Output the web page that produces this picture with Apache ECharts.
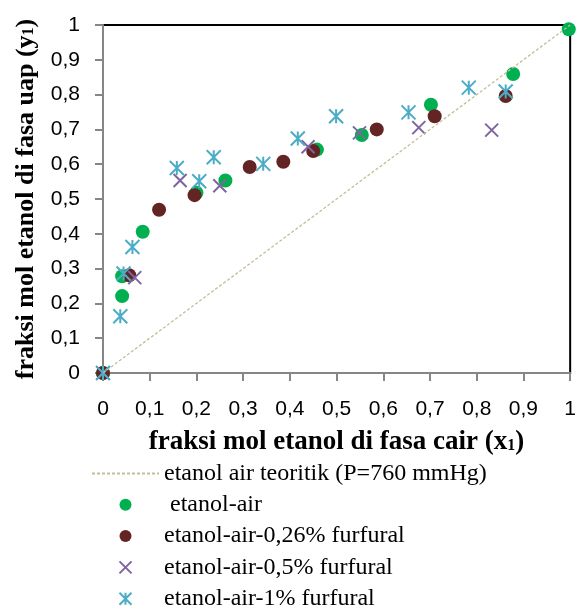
<!DOCTYPE html>
<html>
<head>
<meta charset="utf-8">
<script src="https://cdn.jsdelivr.net/npm/echarts@6/dist/echarts.min.js"></script>
<style>
  html, body { margin: 0; padding: 0; background: #fff; }
  #chart { width: 579px; height: 606px; }
</style>
</head>
<body>
<div id="chart"></div>
<script>
// teoritik line (diagonal y = x)
const teoritik = [[0, 0], [1, 1]];

// etanol-air
const airX = [0, 0.041, 0.041, 0.085, 0.200, 0.262, 0.458, 0.554, 0.702, 0.878, 0.997];
const airY = [0, 0.221, 0.278, 0.406, 0.518, 0.553, 0.642, 0.684, 0.771, 0.859, 0.988];

// etanol-air-0,26% furfural
const f026X = [0, 0.056, 0.120, 0.196, 0.314, 0.386, 0.450, 0.586, 0.710, 0.862];
const f026Y = [0, 0.281, 0.469, 0.511, 0.592, 0.607, 0.638, 0.700, 0.738, 0.796];

// etanol-air-0,5% furfural
const f05X = [0, 0.068, 0.165, 0.250, 0.439, 0.549, 0.676, 0.832];
const f05Y = [0, 0.274, 0.553, 0.538, 0.650, 0.690, 0.705, 0.698];

// etanol-air-1% furfural
const f1X = [0, 0.037, 0.044, 0.063, 0.158, 0.206, 0.237, 0.343, 0.417, 0.499, 0.654, 0.783, 0.862];
const f1Y = [0, 0.163, 0.286, 0.362, 0.589, 0.551, 0.620, 0.601, 0.674, 0.738, 0.749, 0.820, 0.809];

const legendNames = ['etanol air teoritik (P=760 mmHg)', ' etanol-air', 'etanol-air-0,26% furfural',
                     'etanol-air-0,5% furfural', 'etanol-air-1% furfural'];

const pairs = (xs, ys) => xs.map((x, i) => [x, ys[i]]);

const crossPath = 'path://M0,0 L20,20 M20,0 L0,20';
const starPath = 'path://M0,0 L20,20 M20,0 L0,20 M10,0 L10,20';

const serif = 'Liberation Serif';
const sans = 'Liberation Sans';
const comma = v => String(Math.round(v * 10) / 10).replace('.', ',');

// axis titles with a small "1" after x / y
const titleStyle = size => ({
    fontFamily: serif, fontWeight: 'bold', fontSize: size, color: '#000',
    rich: {
        t: { fontFamily: serif, fontWeight: 'bold', fontSize: size, color: '#000' },
        s: { fontFamily: serif, fontWeight: 'bold', fontSize: Math.round(size * 0.6), color: '#000', padding: [6, 0, 0, 0] }
    }
});

const chart = echarts.init(document.getElementById('chart'));
chart.setOption({
    animation: false,
    grid: {
        left: 103, right: 4, top: 25, bottom: 233,
        show: true, borderColor: '#000', borderWidth: 2
    },
    legend: {
        orient: 'vertical',
        left: 91,
        top: 460,
        height: 240,
        padding: 0,
        itemWidth: 67,
        itemHeight: 12,
        itemGap: 4.3,
        textStyle: { fontFamily: serif, fontSize: 24, color: '#000', lineHeight: 27 },
        data: [
            { name: legendNames[0], itemStyle: { opacity: 0 } },
            legendNames[1], legendNames[2], legendNames[3], legendNames[4]
        ]
    },
    xAxis: {
        type: 'value', min: 0, max: 1, interval: 0.1,
        name: '{t|fraksi mol etanol di fasa cair (x}{s|1}{t|)}',
        nameLocation: 'middle', nameGap: 56,
        nameTextStyle: titleStyle(27),
        axisLine: { lineStyle: { color: '#868686', width: 2 } },
        axisTick: { length: 8, lineStyle: { color: '#868686', width: 2 } },
        axisLabel: { formatter: comma, fontFamily: sans, fontSize: 21, color: '#000', margin: 26 },
        splitLine: { show: false }
    },
    yAxis: {
        type: 'value', min: 0, max: 1, interval: 0.1,
        name: '{t|fraksi mol etanol di fasa uap (y}{s|1}{t|)}',
        nameLocation: 'middle', nameGap: 64,
        nameTextStyle: titleStyle(26),
        axisLine: { show: true, lineStyle: { color: '#868686', width: 2 } },
        axisTick: { show: true, length: 8, lineStyle: { color: '#868686', width: 2 } },
        axisLabel: { formatter: comma, fontFamily: sans, fontSize: 21, color: '#000', margin: 23 },
        splitLine: { show: false }
    },
    series: [
        {
            name: legendNames[0],
            type: 'line',
            data: teoritik,
            symbol: 'none',
            lineStyle: { color: '#c4bd97', width: 1.3, type: [3, 2] },
            itemStyle: { color: '#c4bd97' }
        },
        {
            name: legendNames[1],
            type: 'scatter',
            data: pairs(airX, airY),
            symbol: 'circle',
            symbolSize: 14,
            itemStyle: { color: '#00b050', opacity: 1 }
        },
        {
            name: legendNames[2],
            type: 'scatter',
            data: pairs(f026X, f026Y),
            symbol: 'circle',
            symbolSize: 14,
            itemStyle: { color: '#632523', opacity: 1 }
        },
        {
            name: legendNames[3],
            type: 'scatter',
            data: pairs(f05X, f05Y),
            symbol: crossPath,
            symbolSize: 13,
            itemStyle: { color: 'none', borderColor: '#8064a2', borderWidth: 2, opacity: 1 }
        },
        {
            name: legendNames[4],
            type: 'scatter',
            data: pairs(f1X, f1Y),
            symbol: starPath,
            symbolSize: 14,
            itemStyle: { color: 'none', borderColor: '#4bacc6', borderWidth: 2, opacity: 1 }
        }
    ]
});
</script>
</body>
</html>
